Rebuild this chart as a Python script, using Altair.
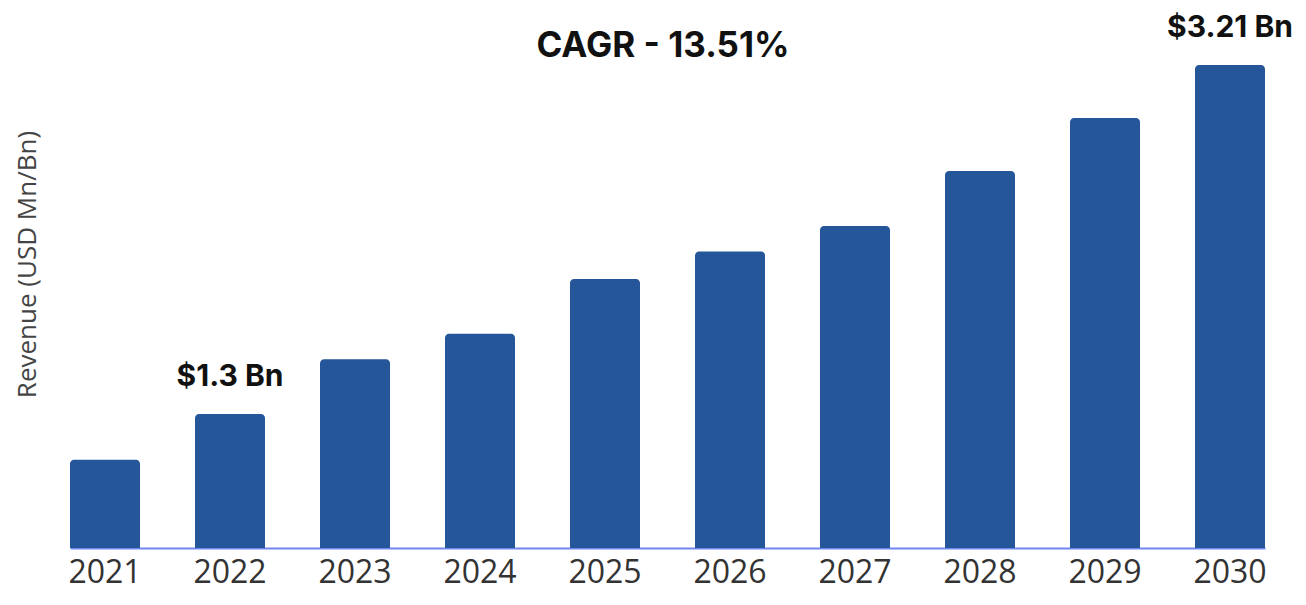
import altair as alt
import pandas as pd

years = ["2021", "2022", "2023", "2024", "2025", "2026", "2027", "2028", "2029", "2030"]
revenue = [1.05, 1.30, 1.60, 1.74, 2.04, 2.19, 2.33, 2.63, 2.92, 3.21]
labels = ["", "$1.3 Bn", "", "", "", "", "", "", "", "$3.21 Bn"]
title_text = ["CAGR - 13.51%"]

Y_MIN = 0.567
Y_MAX = 3.238

df = pd.DataFrame({"year": years, "revenue": revenue, "label": labels})

x = alt.X(
    "year:N",
    sort=years,
    scale=alt.Scale(paddingInner=0.44, paddingOuter=0),
    axis=alt.Axis(
        title=None,
        labelAngle=0,
        labelFont="Open Sans",
        labelFontSize=32,
        labelColor="#333333",
        labelPadding=9,
        ticks=False,
        domainColor="#7088ee",
        domainWidth=2,
        grid=False,
    ),
)
y = alt.Y(
    "revenue:Q",
    scale=alt.Scale(domain=[Y_MIN, Y_MAX], zero=False, nice=False),
    axis=alt.Axis(
        title="Revenue (USD Mn/Bn)",
        titleFont="Open Sans",
        titleFontSize=26,
        titleFontWeight="normal",
        titleColor="#444444",
        titleAngle=-90,
        titleX=-43,
        titleY=204,
        titleAlign="center",
        titleBaseline="middle",
        labels=False,
        ticks=False,
        domain=False,
        grid=False,
    ),
)

bars = alt.Chart(df).mark_bar(
    color="#26569a", cornerRadiusTopLeft=4, cornerRadiusTopRight=4
).encode(x=x, y=y, y2=alt.datum(Y_MIN))

text = alt.Chart(df).mark_text(
    font="Inter", fontSize=30, fontWeight="bold", color="#111111",
    baseline="alphabetic", dy=-28,
).encode(x=alt.X("year:N", sort=years), y=alt.Y("revenue:Q"), text="label:N")

title = alt.Chart(pd.DataFrame({"t": title_text})).mark_text(
    font="Inter", fontSize=35, fontWeight="bold", color="#111111",
    baseline="middle", align="center",
).encode(x=alt.value(593), y=alt.value(-14), text="t:N")

chart = alt.layer(bars, text, title).properties(
    width=1195,
    height=488,
    autosize=alt.AutoSizeParams(type="none"),
    padding={"left": 62, "top": 52, "right": 33, "bottom": 46},
).configure(background="white").configure_view(strokeWidth=0, stroke="transparent")

chart.save("out.html", embed_options={"renderer": "svg", "actions": False})
